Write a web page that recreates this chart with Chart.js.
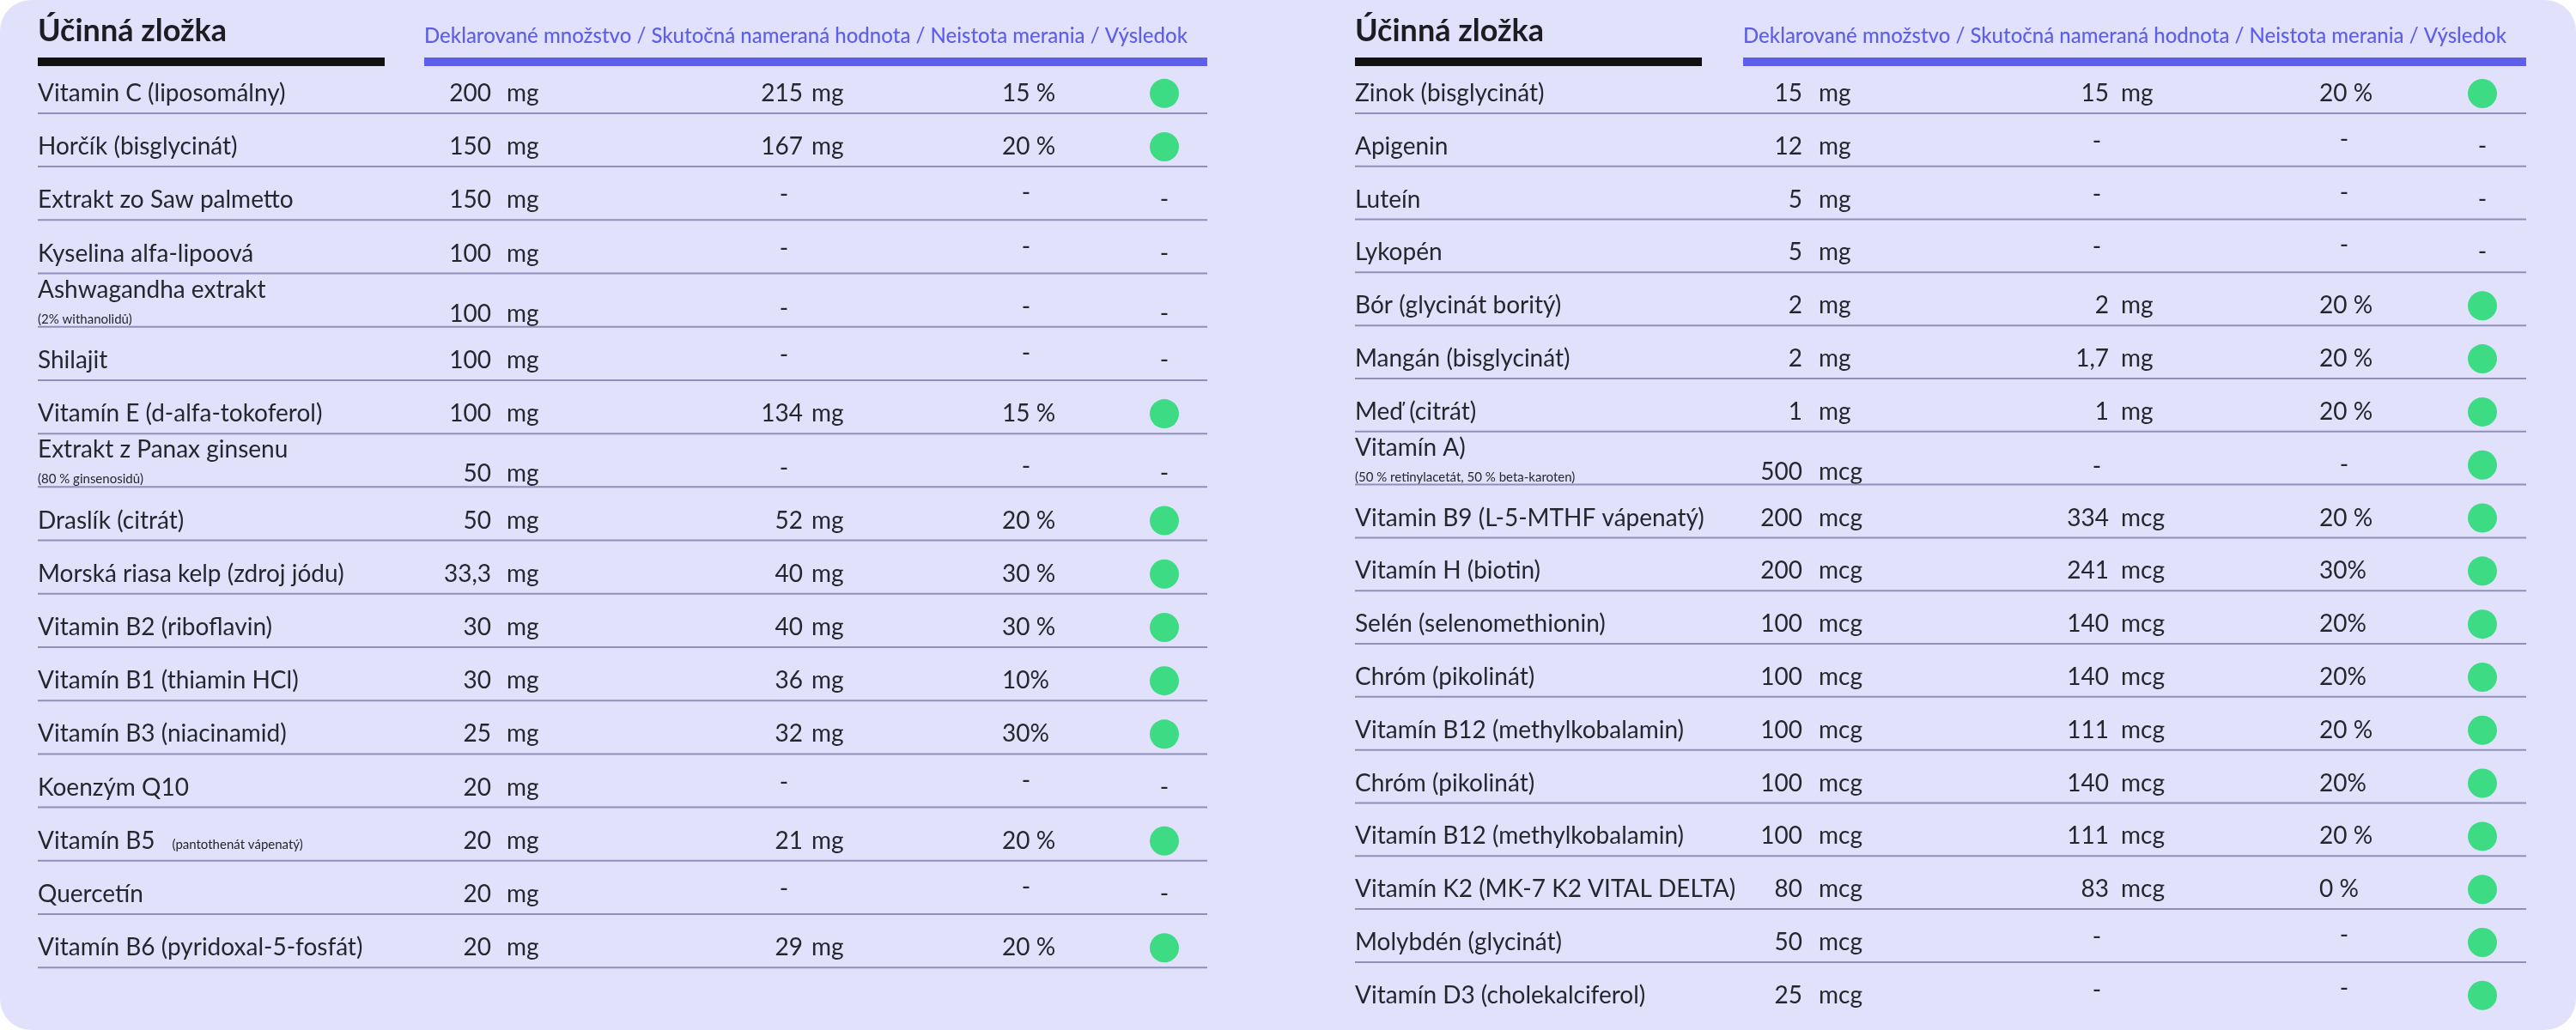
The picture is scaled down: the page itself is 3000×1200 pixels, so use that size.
<!DOCTYPE html>
<html>
<head>
<meta charset="utf-8">
<script src="https://cdn.jsdelivr.net/npm/chart.js@4/dist/chart.umd.min.js"></script>
<style>
  body { margin: 0; background: #ffffff; }
  #wrap { position: absolute; left: 0; top: 0; width: 3000px; height: 1200px; background: #e1e1fb; border-radius: 36px; overflow: hidden; }
  .panel { position: absolute; top: 0; width: 1500px; height: 1200px; }
</style>
</head>
<body>
<div id="wrap">
  <div class="panel" style="left:0"><canvas id="leftCanvas" width="1500" height="1200"></canvas></div>
  <div class="panel" style="left:1500px"><canvas id="rightCanvas" width="1500" height="1200"></canvas></div>
</div>
<script>
// table data, left panel
const leftNames = ['Vitamin C (liposomálny)', 'Horčík (bisglycinát)', 'Extrakt zo Saw palmetto', 'Kyselina alfa-lipoová',
  'Ashwagandha extrakt', 'Shilajit', 'Vitamín E (d-alfa-tokoferol)', 'Extrakt z Panax ginsenu', 'Draslík (citrát)',
  'Morská riasa kelp (zdroj jódu)', 'Vitamin B2 (riboflavin)', 'Vitamín B1 (thiamin HCl)', 'Vitamín B3 (niacinamid)',
  'Koenzým Q10', 'Vitamín B5', 'Quercetín', 'Vitamín B6 (pyridoxal-5-fosfát)'];
const leftSub = ['', '', '', '', '(2% withanolidů)', '', '', '(80 % ginsenosidů)', '', '', '', '', '', '', '(pantothenát vápenatý)', '', ''];
const leftDecl = ['200', '150', '150', '100', '100', '100', '100', '50', '50', '33,3', '30', '30', '25', '20', '20', '20', '20'];
const leftMeas = ['215', '167', '-', '-', '-', '-', '134', '-', '52', '40', '40', '36', '32', '-', '21', '-', '29'];
const leftUnc = ['15 %', '20 %', '-', '-', '-', '-', '15 %', '-', '20 %', '30 %', '30 %', '10%', '30%', '-', '20 %', '-', '20 %'];
const leftOk = [1, 1, 0, 0, 0, 0, 1, 0, 1, 1, 1, 1, 1, 0, 1, 0, 1];
const leftUnit = 'mg';

// table data, right panel
const rightNames = ['Zinok (bisglycinát)', 'Apigenin', 'Luteín', 'Lykopén', 'Bór (glycinát boritý)', 'Mangán (bisglycinát)',
  'Meď (citrát)', 'Vitamín A)', 'Vitamin B9 (L-5-MTHF vápenatý)', 'Vitamín H (biotin)', 'Selén (selenomethionin)',
  'Chróm (pikolinát)', 'Vitamín B12 (methylkobalamin)', 'Chróm (pikolinát)', 'Vitamín B12 (methylkobalamin)',
  'Vitamín K2 (MK-7 K2 VITAL DELTA)', 'Molybdén (glycinát)', 'Vitamín D3 (cholekalciferol)'];
const rightSub = ['', '', '', '', '', '', '', '(50 % retinylacetát, 50 % beta-karoten)', '', '', '', '', '', '', '', '', '', ''];
const rightDecl = ['15', '12', '5', '5', '2', '2', '1', '500', '200', '200', '100', '100', '100', '100', '100', '80', '50', '25'];
const rightDeclUnit = ['mg', 'mg', 'mg', 'mg', 'mg', 'mg', 'mg', 'mcg', 'mcg', 'mcg', 'mcg', 'mcg', 'mcg', 'mcg', 'mcg', 'mcg', 'mcg', 'mcg'];
const rightMeas = ['15', '-', '-', '-', '2', '1,7', '1', '-', '334', '241', '140', '140', '111', '140', '111', '83', '-', '-'];
const rightUnc = ['20 %', '-', '-', '-', '20 %', '20 %', '20 %', '-', '20 %', '30%', '20%', '20%', '20 %', '20%', '20 %', '0 %', '-', '-'];
const rightOk = [1, 0, 0, 0, 1, 1, 1, 1, 1, 1, 1, 1, 1, 1, 1, 1, 1, 1];

const titleText = 'Účinná zložka';
const headerText = 'Deklarované množstvo / Skutočná nameraná hodnota / Neistota merania / Výsledok';

const FONT = 'Lato, "Noto Sans", sans-serif';
const GREEN = '#3ddc84';
const BLUE = '#5d5fe8';

// draws the table text, bars and row separators on top of the scatter points
const tablePlugin = {
  id: 'tablePlugin',
  beforeDatasetsDraw(chart) {
    const t = chart.options.plugins.tablePlugin;
    const ctx = chart.ctx;
    const xs = chart.scales.x;
    const ys = chart.scales.y;
    ctx.save();
    // header
    ctx.fillStyle = '#1c1c22';
    ctx.font = 'bold 36px ' + FONT;
    ctx.textBaseline = 'middle';
    ctx.textAlign = 'left';
    ctx.fillText(titleText, xs.getPixelForValue(t.col.name), 36);
    ctx.fillStyle = BLUE;
    ctx.font = '500 24px ' + FONT;
    ctx.fillText(headerText, xs.getPixelForValue(t.col.header), 42);
    ctx.fillStyle = '#111';
    ctx.fillRect(xs.getPixelForValue(t.col.name), 67, t.blackW, 10);
    ctx.fillStyle = BLUE;
    ctx.fillRect(xs.getPixelForValue(t.col.header), 67, xs.getPixelForValue(t.col.end) - xs.getPixelForValue(t.col.header), 10);

    t.names.forEach((name, i) => {
      const y = ys.getPixelForValue(i);
      const two = t.sub[i] && !t.inline[i];
      ctx.fillStyle = '#26262e';
      ctx.textAlign = 'left';
      ctx.font = '28px ' + FONT;
      ctx.fillText(name, xs.getPixelForValue(t.col.name), two ? y - 20 : y);
      if (t.sub[i]) {
        const w = ctx.measureText(name).width;
        ctx.font = '15px ' + FONT;
        if (two) ctx.fillText(t.sub[i], xs.getPixelForValue(t.col.name), y + 14);
        else ctx.fillText(t.sub[i], xs.getPixelForValue(t.col.name) + w + 20, y + 4);
      }
      const vy = two ? y + 8 : y;
      ctx.font = '28px ' + FONT;
      ctx.textAlign = 'right';
      ctx.fillText(t.decl[i], xs.getPixelForValue(t.col.declNum), vy);
      ctx.textAlign = 'left';
      ctx.fillText(t.declUnit[i], xs.getPixelForValue(t.col.declUnit), vy);
      if (t.meas[i] === '-') {
        ctx.textAlign = 'center';
        ctx.fillText('-', xs.getPixelForValue(t.col.measDash), vy - 6);
      } else {
        ctx.textAlign = 'right';
        ctx.fillText(t.meas[i], xs.getPixelForValue(t.col.measNum), vy);
        ctx.textAlign = 'left';
        ctx.fillText(t.declUnit[i], xs.getPixelForValue(t.col.measUnit), vy);
      }
      if (t.unc[i] === '-') {
        ctx.textAlign = 'center';
        ctx.fillText('-', xs.getPixelForValue(t.col.uncDash), vy - 8);
      } else {
        ctx.textAlign = 'left';
        ctx.fillText(t.unc[i], xs.getPixelForValue(t.col.unc), vy);
      }
      if (!t.ok[i]) {
        ctx.textAlign = 'center';
        ctx.fillText('-', xs.getPixelForValue(t.col.dot), vy);
      }
      if (i < t.lines) {
        ctx.strokeStyle = '#8f8fba';
        ctx.lineWidth = 2;
        const ly = ys.getPixelForValue(i + 0.37);
        ctx.beginPath();
        ctx.moveTo(xs.getPixelForValue(t.col.name), ly);
        ctx.lineTo(xs.getPixelForValue(t.col.end), ly);
        ctx.stroke();
      }
    });
    ctx.restore();
  }
};

function makeTable(canvasId, opts) {
  const dots = [];
  opts.ok.forEach((v, i) => { if (v) dots.push({ x: opts.col.dot, y: i }); });
  return new Chart(document.getElementById(canvasId).getContext('2d'), {
    type: 'scatter',
    data: {
      datasets: [{ data: dots, backgroundColor: GREEN, borderWidth: 0, pointRadius: 17, pointHoverRadius: 17, clip: false }]
    },
    options: {
      responsive: false,
      animation: false,
      layout: { padding: 0, autoPadding: false },
      scales: {
        x: { type: 'linear', min: 0, max: 1500, display: false },
        y: { type: 'linear', reverse: true, min: opts.yMin, max: opts.yMax, display: false }
      },
      plugins: { legend: { display: false }, tooltip: { enabled: false }, tablePlugin: opts }
    },
    plugins: [tablePlugin]
  });
}

makeTable('leftCanvas', {
  names: leftNames, sub: leftSub, inline: leftNames.map((n, i) => i === 14),
  decl: leftDecl, declUnit: leftNames.map(() => leftUnit), meas: leftMeas, unc: leftUnc, ok: leftOk,
  lines: leftNames.length, yMin: -1.75, yMax: 17.54, blackW: 404,
  col: { name: 44, header: 494, end: 1406, declNum: 572, declUnit: 590, measNum: 935, measUnit: 945, measDash: 913, unc: 1167, uncDash: 1195, dot: 1356 }
});

makeTable('rightCanvas', {
  names: rightNames, sub: rightSub, inline: rightNames.map(() => false),
  decl: rightDecl, declUnit: rightDeclUnit, meas: rightMeas, unc: rightUnc, ok: rightOk,
  lines: rightNames.length - 1, yMin: -1.764, yMax: 17.65, blackW: 404,
  col: { name: 78, header: 530, end: 1442, declNum: 599, declUnit: 618, measNum: 956, measUnit: 970, measDash: 942, unc: 1201, uncDash: 1230, dot: 1391 }
});
</script>
</body>
</html>
